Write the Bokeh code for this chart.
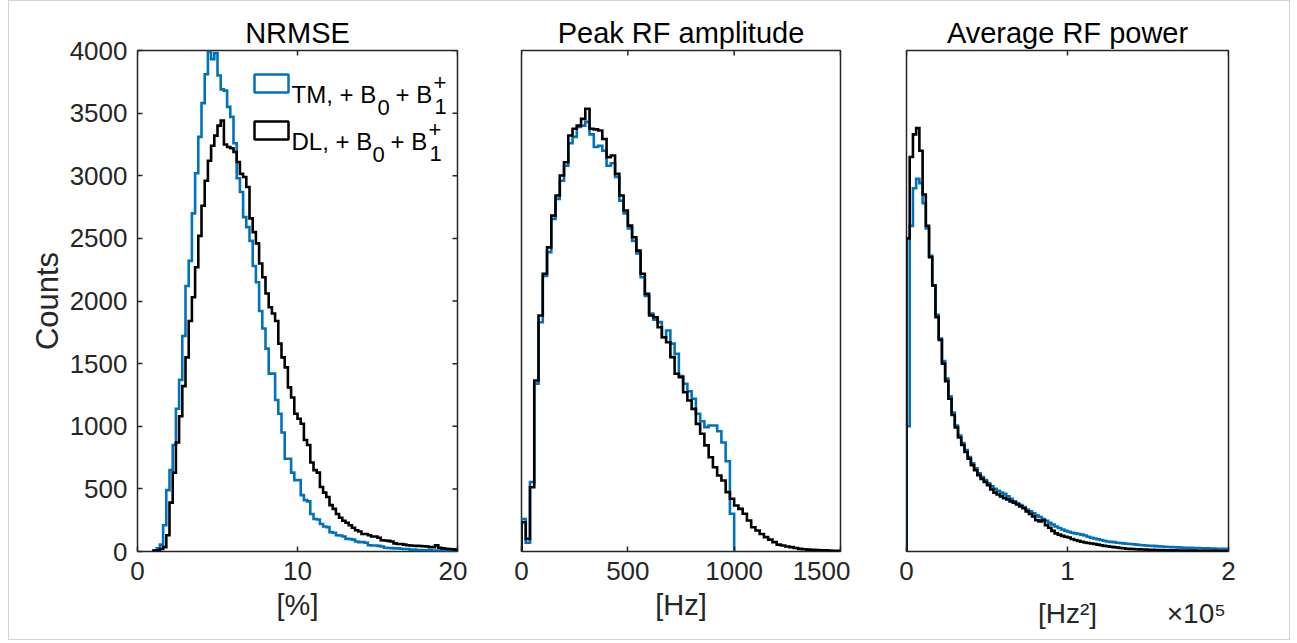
import numpy as np
from bokeh.plotting import figure
from bokeh.models import Range1d, LinearAxis, FixedTicker, Label, BoxAnnotation
from bokeh.layouts import row
from bokeh.embed import file_html
from bokeh.resources import INLINE

# ---------------- data (histogram counts) ----------------
series_names = ["TM, + B", "DL, + B"]

# Panel 1: NRMSE [%], bins of 0.2 % starting at 1.0 %
nrmse_start = 1.0
nrmse_width = 0.2
nrmse_tm = [10, 25, 55, 210, 490, 650, 850, 1140, 1370, 1720,
            2120, 2320, 2700, 3020, 3310, 3580, 3810, 3990, 3930, 3980,
            3800, 3690, 3680, 3550, 3470, 3260, 2980, 2870, 2670, 2590,
            2480, 2280, 2150, 1920, 1780, 1620, 1420, 1420, 1210, 1100,
            950, 740, 740, 630, 570, 570, 450, 410, 400, 300,
            260, 255, 220, 200, 195, 155, 150, 130, 128, 120,
            101, 100, 95, 80, 75, 75, 70, 50, 48, 48,
            45, 40, 30, 28, 27, 25, 25, 22, 20, 20,
            15, 15, 12, 12, 10, 10, 10, 8, 8, 8, 6, 6, 5, 5, 5]
nrmse_dl = [5, 10, 20, 35, 130, 390, 630, 870, 1080, 1320,
            1550, 1840, 2030, 2270, 2520, 2760, 2960, 3120, 3240, 3320,
            3400, 3440, 3250, 3230, 3220, 3190, 3110, 3015, 2990, 2910,
            2660, 2550, 2460, 2300, 2190, 2060, 1950, 1900, 1840, 1660,
            1550, 1470, 1310, 1230, 1100, 1060, 1020, 890, 850, 710,
            650, 630, 515, 470, 435, 370, 340, 300, 270, 245,
            230, 210, 190, 170, 160, 140, 140, 130, 120, 120,
            110, 90, 88, 85, 80, 65, 60, 60, 55, 50,
            48, 46, 45, 44, 42, 40, 35, 35, 50, 30, 25, 22, 20, 18, 15]

# Panel 2: Peak RF amplitude [Hz], bins of 20 Hz starting at 0
peak_start = 0
peak_width = 20
peak_tm = [260, 70, 555, 1340, 1830, 2200, 2390, 2655, 2815, 2960,
           3080, 3260, 3310, 3390, 3400, 3430, 3330, 3230, 3240, 3200,
           3080, 3100, 2990, 2800, 2700, 2580, 2480, 2380, 2190, 2040,
           1900, 1850, 1831, 1710, 1764, 1660, 1578, 1400, 1339, 1280,
           1219, 1100, 1040, 993, 1006, 1006, 960, 870, 720, 301]
peak_dl = [234, 101, 513, 1365, 1884, 2217, 2428, 2682, 2842, 3002,
           3108, 3321, 3375, 3400, 3454, 3535, 3375, 3370, 3361, 3294,
           3148, 3162, 3015, 2842, 2722, 2602, 2509, 2402, 2217, 2057,
           1884, 1870, 1791, 1711, 1671, 1552, 1419, 1392, 1272, 1206,
           1139, 1019, 940, 847, 753, 673, 607, 567, 474, 421,
           367, 340, 301, 248, 194, 168, 140, 115, 95, 75,
           55, 48, 40, 35, 28, 21, 18, 15, 13, 12,
           10, 10, 8, 6, 5]

# Panel 3: Average RF power [Hz^2], bins of 2000 Hz^2 starting at 0
power_start = 0
power_width = 2000
power_tm = [1000, 2600, 2900, 2975, 2940, 2780, 2580, 2360, 2124, 1890,
            1700, 1520, 1380, 1240, 1110, 1005, 925, 865, 810, 755,
            705, 665, 625, 595, 570, 545, 520, 500, 485, 470,
            460, 440, 420, 400, 385, 370, 355, 335, 320, 305,
            290, 275, 260, 245, 230, 215, 200, 188, 176, 166,
            158, 150, 145, 140, 135, 128, 118, 110, 104, 98,
            92, 86, 80, 77, 75, 70, 68, 65, 62, 60,
            58, 55, 52, 50, 48, 46, 45, 43, 41, 40,
            38, 36, 35, 34, 33, 31, 30, 29, 29, 28,
            27, 26, 25, 25, 24, 23, 22, 22, 21, 20]
power_dl = [2500, 3150, 3330, 3380, 3200, 2850, 2600, 2350, 2124, 1871,
            1690, 1500, 1360, 1220, 1090, 990, 910, 850, 795, 740,
            690, 650, 610, 580, 555, 530, 495, 470, 455, 440,
            425, 415, 400, 390, 375, 360, 345, 320, 300, 280,
            250, 240, 250, 210, 190, 165, 145, 135, 125, 118,
            112, 100, 92, 85, 78, 72, 68, 64, 60, 55,
            50, 45, 42, 38, 35, 32, 28, 26, 22, 21,
            20, 18, 17, 16, 15, 14, 13, 12, 12, 11,
            10, 10, 9, 9, 8, 8, 8, 7, 7, 7,
            6, 6, 6, 5, 5, 5, 4, 4, 4, 4]

titles = ["NRMSE", "Peak RF amplitude", "Average RF power"]
xlabels = ["[%]", "[Hz]", ""]
y_ticks = [0, 500, 1000, 1500, 2000, 2500, 3000, 3500, 4000]
x_ticks = [[0, 10, 20], [0, 500, 1000, 1500], [0, 100000, 200000]]
x_limits = [(0, 20), (0, 1500), (0, 200000)]
y_limits = (0, 4000)
power_tick_text = {0: "0", 100000: "1", 200000: "2"}
power_unit_text = {100000: "[Hz\u00b2]", 180000: "\u00d710\u2075"}

# ---------------- style ----------------
FONT = "Liberation Sans"
BLUE = "#0072BD"
BLACK = "#000000"
AX = "#262626"
TICK_FS = "26px"
TITLE_FS = "29px"
LABEL_FS = "29px"
YLABEL_FS = "31px"
LEG_FS = "24px"
SUB_FS = "22px"
LW = 2.6
TICK_LEN = 5
PAGE_LEFT = 9  # outer light frame starts here (margin 8 + 1px border)

FRAME_TOP = 49       # + 1px outer border = 50 on the page
FRAME_H = 501
BOTTOM = 88
H = FRAME_TOP + FRAME_H + BOTTOM
# (page frame-left, frame width, min_border_left, min_border_right)
geo = [(137, 320, 137 - PAGE_LEFT, 10), (521, 319, 54, 10), (906, 322, 56, 61)]


def stairs(start, width, counts):
    xs, ys = [start], [0]
    for i, c in enumerate(counts):
        x0 = start + i * width
        xs += [x0, x0 + width]
        ys += [c, c]
    xs.append(start + len(counts) * width)
    ys.append(0)
    return xs, ys


def style_axis(a, label_fs=LABEL_FS):
    a.axis_line_color = None
    a.major_tick_in = TICK_LEN
    a.major_tick_out = 0
    a.major_tick_line_color = AX
    a.major_tick_line_width = 1.5
    a.minor_tick_line_color = None
    a.major_label_text_font = FONT
    a.major_label_text_font_size = TICK_FS
    a.major_label_text_color = AX
    a.axis_label_text_font = FONT
    a.axis_label_text_font_size = label_fs
    a.axis_label_text_font_style = "normal"
    a.axis_label_text_color = AX
    a.major_label_standoff = 10


def make_fig(k):
    left, fw, bl, br = geo[k]
    p = figure(width=bl + fw + br, height=H,
               x_range=Range1d(*x_limits[k]), y_range=Range1d(*y_limits),
               output_backend="svg", toolbar_location=None,
               min_border_left=bl, min_border_right=br,
               min_border_top=FRAME_TOP, min_border_bottom=BOTTOM)
    p.background_fill_color = "white"
    p.border_fill_color = "white"
    p.xgrid.visible = False
    p.ygrid.visible = False
    p.outline_line_color = AX
    p.outline_line_width = 1.5
    p.outline_line_alpha = 1.0

    p.title.text = titles[k]
    p.title.align = "center"
    p.title.text_font = FONT
    p.title.text_font_size = TITLE_FS
    p.title.text_font_style = "normal"
    p.title.text_color = BLACK
    p.title.standoff = 3

    xa = p.xaxis[0]
    xa.ticker = FixedTicker(ticks=x_ticks[k])
    style_axis(xa)
    if k == 2:
        xa.major_label_overrides = power_tick_text
    else:
        xa.axis_label = xlabels[k]
        xa.axis_label_standoff = 6
    ya = p.yaxis[0]
    ya.ticker = FixedTicker(ticks=y_ticks)
    style_axis(ya, YLABEL_FS)
    if k == 0:
        ya.axis_label = "Counts"
        ya.axis_label_standoff = 2
    else:
        ya.visible = False

    # mirrored tick marks (MATLAB "box on"): top for all, right for panel 1
    x0, x1 = x_limits[k]
    y0, y1 = y_limits
    dy = TICK_LEN / FRAME_H * (y1 - y0)
    xt = x_ticks[k]
    p.segment(x0=xt, y0=[y1] * len(xt), x1=xt, y1=[y1 - dy] * len(xt),
              line_color=AX, line_width=1.5)
    if k == 0:
        dx = TICK_LEN / fw * (x1 - x0)
        p.segment(x0=[x1] * len(y_ticks), y0=y_ticks,
                  x1=[x1 - dx] * len(y_ticks), y1=y_ticks,
                  line_color=AX, line_width=1.5)
    return p


def pxdata(k, px, py):
    # page pixel -> data coordinates of panel k (page frame top is FRAME_TOP + 1)
    left, fw, bl, br = geo[k]
    x0, x1 = x_limits[k]
    y0, y1 = y_limits
    x = x0 + (px - left) / fw * (x1 - x0)
    y = y1 - (py - (FRAME_TOP + 1)) / FRAME_H * (y1 - y0)
    return x, y


def add_text(p, k, px, py, text, size, color=BLACK):
    x, y = pxdata(k, px, py)
    p.add_layout(Label(x=x, y=y, text=text, text_font=FONT,
                       text_font_size=size, text_color=color,
                       text_baseline="alphabetic", text_align="left"))


data = [(nrmse_start, nrmse_width, nrmse_tm, nrmse_dl),
        (peak_start, peak_width, peak_tm, peak_dl),
        (power_start, power_width, power_tm, power_dl)]

figs = []
for k in range(3):
    p = make_fig(k)
    start, width, tm, dl = data[k]
    xs, ys = stairs(start, width, tm)
    p.line(xs, ys, line_color=BLUE, line_width=LW, line_join="miter")
    xs, ys = stairs(start, width, dl)
    p.line(xs, ys, line_color=BLACK, line_width=LW, line_join="miter")
    figs.append(p)

# legend (panel 1), built from pieces so that sub/superscripts stack like TeX
p1 = figs[0]
for r, (name, col) in enumerate(zip(series_names, [BLUE, BLACK])):
    dy = 47 * r
    l, t = pxdata(0, 254, 74 + dy)
    rr, b = pxdata(0, 288, 92 + dy)
    p1.add_layout(BoxAnnotation(left=l, right=rr, top=t, bottom=b,
                                fill_color=None, fill_alpha=0,
                                line_color=col, line_alpha=1.0,
                                line_width=2.5))
    sh = 0 if r == 0 else -5
    add_text(p1, 0, 291, 94 + dy, name, LEG_FS)
    add_text(p1, 0, 377 + sh, 107 + dy, "0", SUB_FS)
    add_text(p1, 0, 395 + sh, 94 + dy, "+ B", LEG_FS)
    add_text(p1, 0, 433 + sh, 82 + dy, "+", SUB_FS)
    add_text(p1, 0, 434 + sh, 106 + dy, "1", SUB_FS)

# panel 3: unit label and exponent as a second, tick-less bottom axis
p3 = figs[2]
ua = LinearAxis(ticker=FixedTicker(ticks=list(power_unit_text.keys())),
                major_label_overrides=power_unit_text)
style_axis(ua)
ua.major_tick_line_color = None
ua.major_label_text_font_size = "28px"
ua.major_label_standoff = 15
p3.add_layout(ua, "below")

layout = row(*figs, margin=(0, 0, 0, PAGE_LEFT - 1),
             styles={"border": "1px solid #d4d4d4"})
open("out.html", "w").write(file_html(layout, INLINE))
